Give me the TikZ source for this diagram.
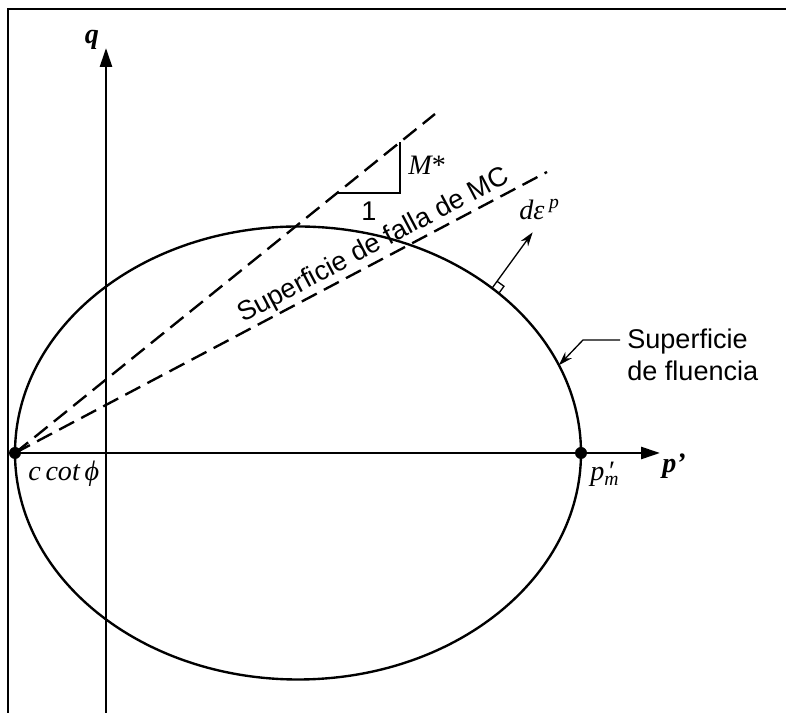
\documentclass[tikz,border=0pt]{standalone}
\usepackage{fontspec}
\setmainfont{Liberation Serif}
\setsansfont{Liberation Sans}
\usepackage{tikz}
\usetikzlibrary{arrows.meta, calc}

\begin{document}
\begin{tikzpicture}[
        axis/.style={line width=1.5pt, -{Triangle[length=0.38cm,width=0.24cm]}},
        mcline/.style={line width=1.35pt, dash pattern=on 9.6pt off 4.6pt},
        surf/.style={line width=1.35pt},
        thinline/.style={line width=0.75pt},
        arr/.style={thinline, -{Stealth[length=0.28cm,width=0.18cm]}},
        lbl/.style={font=\fontsize{16}{19}\selectfont\itshape, inner sep=0pt},
        txt/.style={font=\sffamily\fontsize{15.4}{18.4}\selectfont, inner sep=0pt},
        dot/.style={circle, fill, inner sep=0pt, minimum size=0.24cm}]
      \useasboundingbox (0,0) rectangle (15.72,14.26);
      \draw[line width=1.5pt] (0.16,0) -- (0.16,14.08) -- (15.72,14.08);

      \coordinate (O) at (0.30,5.20);
      \coordinate (C) at (5.96,5.20);
      \coordinate (Pm) at (11.62,5.20);
      \coordinate (qbot) at (2.12,0);
      \coordinate (qtop) at (2.12,13.30);
      \coordinate (pend) at (13.20,5.20);
      \coordinate (mstar) at (8.70,11.98);
      \coordinate (mcend) at (10.94,10.82);

      \draw[axis] (qbot) -- (qtop);
      \draw[axis] (O) -- (pend);
      \node[lbl, font=\fontsize{16}{19}\selectfont\bfseries\itshape] (q) at (1.84,13.46) {q};
      \node[lbl, font=\fontsize{16}{19}\selectfont\bfseries\itshape] (p) at (13.48,4.94) {p’};

      \draw[surf] (C) ellipse (5.66 and 4.53);

      \draw[mcline] (O) -- (mstar);
      \draw[mcline] (O) -- (mcend);
      \node[txt, rotate=27.84, anchor=base] (mc) at (7.54,9.22) {Superficie de falla de MC};

      \coordinate (t1) at (6.74,10.40);
      \coordinate (t2) at (8.00,10.40);
      \coordinate (t3) at (8.00,11.42);
      \draw[thinline] (t1) -- (t2) -- (t3);
      \node[lbl, anchor=base west] (m) at (8.16,10.76) {M\upshape*};
      \node[txt] (one) at (7.38,10.04) {1};

      \node[dot] (d0) at (O) {};
      \node[dot] (d1) at (Pm) {};
      \node[lbl, anchor=base west] (cc) at (0.56,4.64) {c\,cot\,ϕ};
      \node[lbl, anchor=base west] (pm) at (11.80,4.64) {p\rlap{\upshape\,′}\textsubscript{m}};

      \coordinate (B) at ($(C)+(46.7:5.66cm and 4.53cm)$);
      \draw[arr] (B) -- ++(54:1.38) coordinate (Bt);
      \draw[thinline] (B) ++(54:0.17) -- ++(-36:0.17) -- ++(-126:0.17);
      \node[lbl, anchor=base west] (de) at (10.38,9.86) {dε\,\textsuperscript{p}};

      \coordinate (B2) at ($(C)+(22.8:5.66cm and 4.53cm)$);
      \node[txt, align=left, anchor=west] (fl) at (12.54,7.16) {Superficie\\de fluencia};
      \coordinate (lead) at (12.40,7.46);
      \draw[arr] (lead) -- ++(-0.74,0) -- (B2);
    \end{tikzpicture}
\end{document}
